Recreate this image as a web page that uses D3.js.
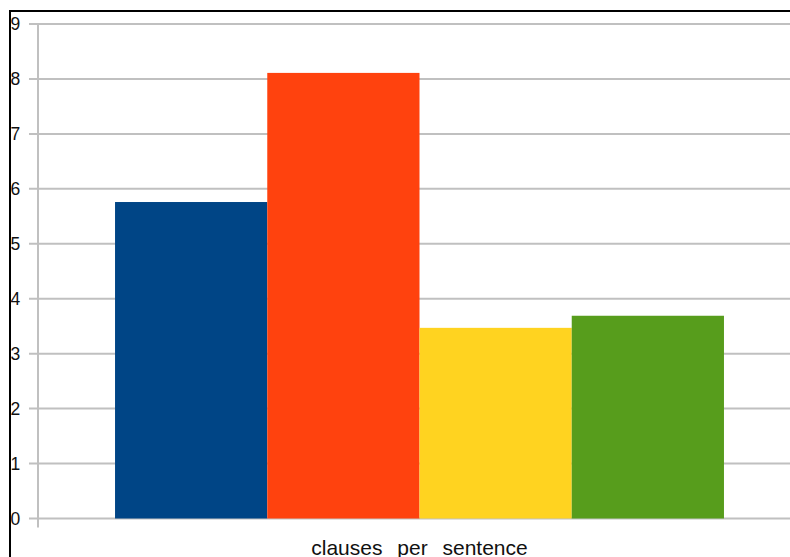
<!DOCTYPE html>
<meta charset="utf-8">
<style>
body { margin: 0; background: #fff; }
text { font-family: "Liberation Sans", Arial, sans-serif; }
</style>
<body>
<script src="https://cdn.jsdelivr.net/npm/d3@7"></script>
<script>
var categories = ['clauses per sentence'];
var series = ['s1', 's2', 's3', 's4'];
var values = [5.76, 8.11, 3.47, 3.69];
var colors = ['#004586', '#ff420e', '#ffd320', '#579d1c'];
var yTicks = [0, 1, 2, 3, 4, 5, 6, 7, 8, 9];

var W = 790, H = 557;
var svg = d3.select('body').append('svg')
    .attr('width', W).attr('height', H);

// frame
svg.append('rect')
    .attr('x', 10).attr('y', 11).attr('width', 800).attr('height', 600)
    .attr('fill', 'none').attr('stroke', '#000').attr('stroke-width', 2);

var x0 = 38, x1 = 801;
var y = d3.scaleLinear().domain([0, 9]).range([518.5, 24]);
var xc = d3.scaleBand().domain(categories).range([x0, x1]).paddingInner(0).paddingOuter(0.1265);
var xs = d3.scaleBand().domain(series).range([0, xc.bandwidth()]);

// gridlines
svg.append('g').selectAll('line').data(yTicks).enter().append('line')
    .attr('x1', 29).attr('x2', W)
    .attr('y1', function(d) { return y(d); })
    .attr('y2', function(d) { return y(d); })
    .attr('stroke', '#c0c0c0').attr('stroke-width', 2);

// y axis line
svg.append('line')
    .attr('x1', x0).attr('x2', x0).attr('y1', y(9)).attr('y2', y(0) + 9)
    .attr('stroke', '#c0c0c0').attr('stroke-width', 2);

// bars
svg.append('g').selectAll('rect').data(values).enter().append('rect')
    .attr('x', function(d, i) { return xc(categories[0]) + xs(series[i]); })
    .attr('width', xs.bandwidth())
    .attr('y', function(d) { return y(d); })
    .attr('height', function(d) { return y(0) - y(d); })
    .attr('fill', function(d, i) { return colors[i]; });

// y tick labels
svg.append('g').selectAll('text').data(yTicks).enter().append('text')
    .attr('x', 10.5).attr('y', function(d) { return y(d) + 6; })
    .attr('font-size', 17.5).attr('fill', '#111')
    .text(function(d) { return d; });

// category label
svg.append('text')
    .attr('x', xc(categories[0]) + xc.bandwidth() / 2).attr('y', 555)
    .attr('text-anchor', 'middle').attr('font-size', 21)
    .attr('word-spacing', 9).attr('fill', '#111')
    .text(categories[0]);
</script>
